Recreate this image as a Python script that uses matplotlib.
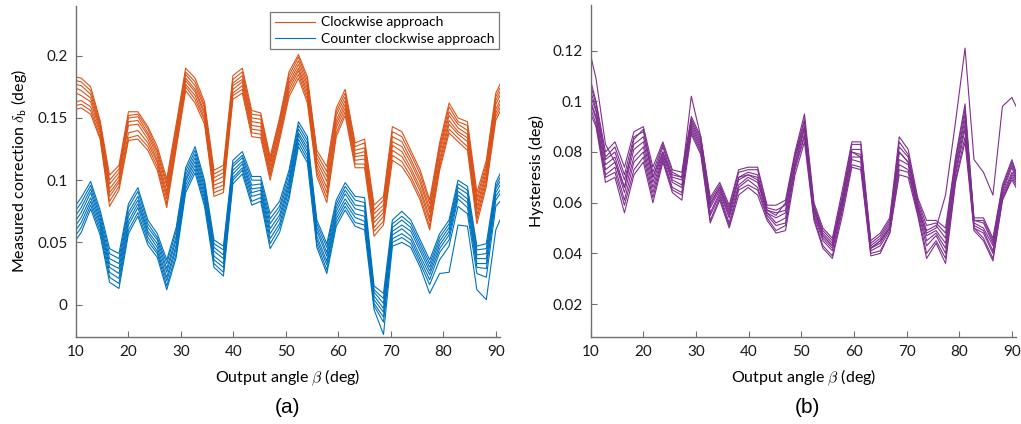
import matplotlib
matplotlib.use('Agg')
import matplotlib.pyplot as plt
from matplotlib.ticker import FuncFormatter

plt.rcParams['font.family'] = ['Lato', 'DejaVu Sans']
plt.rcParams['mathtext.fontset'] = 'cm'

# output angle samples (deg)
beta = [10.0, 11.0, 12.8, 14.6, 16.4, 18.2, 20.0, 21.8, 23.7, 25.5,
        27.3, 29.1, 30.9, 32.7, 34.5, 36.3, 38.1, 39.9, 41.7, 43.5,
        45.2, 47.0, 48.8, 50.6, 52.4, 54.1, 55.9, 57.8, 59.6, 61.3,
        63.2, 65.0, 66.8, 68.6, 70.3, 72.1, 73.8, 75.6, 77.4, 79.3,
        81.1, 82.8, 84.6, 86.4, 88.2, 90.0, 90.8]

# measured correction, clockwise approach (one row per run)
cw_runs = [
    [.183, .182, .175, .148, .104, .112, .155, .155, .143, .127, .101, .145, .190, .182, .163, .108, .112, .184, .190, .156, .154, .119, .150, .187, .201, .183, .124, .111, .158, .173, .130, .133, .080, .087, .143, .139, .124, .108, .084, .130, .162, .150, .147, .090, .116, .170, .177],
    [.180, .179, .172, .146, .100, .109, .152, .153, .141, .124, .098, .142, .187, .179, .160, .105, .109, .181, .187, .153, .152, .116, .148, .184, .199, .180, .121, .107, .155, .170, .127, .130, .076, .084, .139, .135, .121, .105, .081, .127, .159, .147, .144, .086, .113, .167, .174],
    [.177, .176, .169, .144, .097, .106, .150, .151, .138, .122, .095, .139, .185, .176, .158, .102, .106, .178, .184, .150, .149, .114, .145, .181, .196, .177, .118, .103, .152, .167, .124, .126, .073, .080, .135, .131, .117, .101, .077, .124, .155, .145, .140, .083, .110, .164, .171],
    [.174, .172, .166, .142, .093, .103, .147, .148, .136, .119, .091, .136, .182, .173, .155, .099, .103, .176, .181, .147, .146, .111, .143, .178, .193, .174, .115, .099, .148, .164, .121, .123, .069, .077, .131, .127, .114, .098, .074, .121, .152, .142, .137, .079, .107, .161, .168],
    [.170, .168, .163, .140, .090, .100, .144, .145, .133, .116, .088, .134, .180, .171, .153, .096, .099, .173, .179, .144, .143, .108, .140, .176, .190, .171, .112, .094, .145, .161, .119, .120, .066, .074, .128, .123, .110, .094, .070, .117, .148, .139, .134, .076, .104, .157, .164],
    [.163, .164, .159, .138, .087, .098, .138, .140, .130, .114, .085, .131, .177, .168, .150, .093, .096, .170, .176, .141, .140, .105, .137, .173, .188, .168, .109, .090, .142, .158, .116, .117, .062, .071, .124, .119, .107, .091, .067, .114, .145, .137, .131, .072, .101, .154, .161],
    [.160, .161, .156, .135, .083, .095, .134, .136, .127, .111, .081, .128, .175, .165, .148, .090, .093, .168, .173, .138, .137, .103, .135, .170, .185, .165, .106, .086, .138, .155, .113, .113, .059, .067, .120, .115, .103, .087, .063, .111, .141, .134, .127, .069, .098, .151, .158],
    [.157, .158, .153, .133, .079, .092, .132, .133, .124, .108, .078, .125, .172, .162, .145, .087, .090, .165, .170, .135, .134, .100, .132, .167, .182, .162, .103, .082, .135, .152, .110, .110, .055, .064, .116, .111, .100, .084, .060, .108, .138, .131, .124, .065, .095, .148, .155],
]

# measured correction, counter clockwise approach
ccw_runs = [
    [.080, .086, .099, .076, .045, .041, .081, .094, .068, .057, .036, .062, .110, .127, .100, .052, .047, .116, .123, .103, .103, .073, .083, .108, .147, .135, .068, .049, .084, .098, .087, .086, .015, .009, .068, .075, .068, .052, .036, .057, .068, .100, .095, .047, .049, .098, .105],
    [.076, .082, .096, .073, .041, .037, .078, .091, .065, .054, .033, .059, .107, .124, .097, .049, .044, .113, .120, .100, .100, .069, .079, .105, .144, .132, .065, .046, .081, .095, .084, .082, .012, .005, .065, .071, .065, .049, .033, .054, .065, .097, .092, .044, .045, .095, .102],
    [.072, .078, .093, .070, .037, .033, .074, .087, .062, .052, .029, .055, .104, .121, .094, .046, .040, .111, .118, .096, .097, .065, .076, .101, .141, .129, .062, .042, .078, .092, .080, .079, .010, .001, .062, .068, .062, .046, .030, .051, .062, .094, .089, .040, .041, .093, .099],
    [.068, .074, .090, .067, .033, .029, .071, .084, .059, .049, .026, .052, .101, .118, .091, .043, .037, .108, .115, .093, .094, .061, .072, .098, .138, .126, .059, .039, .075, .089, .077, .075, .007, -.003, .059, .064, .059, .043, .027, .048, .059, .091, .085, .037, .037, .090, .096],
    [.064, .070, .086, .065, .030, .025, .067, .081, .057, .046, .022, .048, .099, .115, .088, .039, .033, .105, .113, .090, .092, .057, .069, .095, .136, .123, .055, .035, .072, .085, .073, .071, .004, -.006, .056, .061, .055, .039, .024, .045, .056, .088, .082, .033, .033, .087, .092],
    [.060, .066, .083, .062, .026, .021, .064, .078, .054, .043, .019, .045, .096, .112, .085, .036, .030, .102, .110, .087, .089, .053, .065, .092, .133, .120, .052, .032, .069, .082, .070, .067, .001, -.010, .053, .057, .052, .036, .020, .042, .052, .085, .078, .030, .029, .084, .089],
    [.056, .062, .080, .059, .022, .017, .060, .074, .051, .041, .015, .041, .093, .109, .082, .033, .026, .100, .108, .083, .086, .049, .062, .088, .130, .117, .049, .028, .066, .079, .066, .064, -.001, -.014, .050, .054, .049, .033, .016, .036, .047, .079, .073, .025, .022, .079, .083],
    [.052, .058, .077, .056, .018, .013, .057, .071, .048, .038, .012, .038, .090, .106, .079, .030, .023, .097, .105, .080, .083, .045, .058, .085, .127, .114, .046, .025, .063, .076, .063, .060, -.004, -.024, .047, .050, .046, .030, .009, .025, .026, .064, .063, .012, .004, .060, .068],
]

# hysteresis per run
hyst_runs = [
    [.108, .100, .080, .084, .074, .088, .090, .074, .084, .073, .072, .094, .086, .062, .068, .059, .073, .074, .074, .059, .059, .061, .080, .095, .060, .050, .046, .065, .084, .084, .045, .048, .054, .086, .081, .062, .053, .053, .050, .078, .099, .054, .054, .046, .067, .077, .072],
    [.106, .099, .078, .082, .071, .086, .088, .072, .083, .072, .070, .093, .085, .061, .067, .058, .072, .073, .073, .058, .057, .059, .079, .093, .059, .049, .045, .063, .083, .083, .044, .047, .053, .084, .079, .061, .051, .052, .048, .077, .097, .053, .053, .045, .066, .076, .071],
    [.104, .097, .077, .080, .069, .083, .086, .070, .082, .070, .069, .092, .084, .059, .066, .056, .070, .072, .071, .057, .056, .057, .078, .092, .058, .048, .044, .062, .081, .081, .043, .046, .052, .082, .078, .060, .049, .051, .046, .075, .095, .053, .052, .044, .065, .075, .070],
    [.102, .096, .075, .078, .066, .081, .084, .068, .080, .069, .067, .091, .083, .058, .065, .055, .069, .071, .069, .056, .054, .056, .076, .090, .057, .047, .043, .061, .080, .079, .042, .045, .051, .080, .076, .059, .047, .049, .044, .074, .093, .052, .050, .043, .064, .074, .069],
    [.100, .094, .073, .076, .064, .078, .082, .066, .079, .068, .066, .090, .082, .056, .064, .054, .067, .070, .068, .056, .052, .054, .075, .089, .056, .046, .042, .059, .078, .078, .042, .044, .050, .077, .075, .058, .045, .048, .042, .072, .091, .051, .049, .041, .063, .072, .069],
    [.099, .093, .071, .074, .061, .076, .080, .064, .078, .066, .064, .089, .081, .055, .063, .052, .066, .069, .066, .055, .051, .052, .074, .087, .055, .045, .041, .058, .077, .076, .041, .043, .049, .075, .073, .057, .043, .047, .040, .071, .089, .050, .048, .040, .062, .071, .068],
    [.097, .091, .070, .072, .059, .073, .078, .062, .077, .065, .063, .088, .080, .053, .062, .051, .065, .067, .065, .054, .049, .051, .073, .086, .054, .043, .039, .057, .075, .074, .040, .041, .048, .073, .072, .056, .040, .045, .038, .069, .086, .050, .046, .038, .061, .070, .067],
    [.095, .090, .068, .070, .056, .071, .076, .060, .076, .064, .061, .087, .079, .052, .061, .050, .063, .066, .063, .053, .048, .049, .071, .084, .053, .042, .038, .055, .074, .073, .039, .040, .048, .071, .070, .055, .038, .044, .036, .068, .084, .049, .045, .037, .061, .069, .066],
    [.118, .109, .083, .076, .066, .085, .089, .070, .080, .071, .070, .102, .086, .060, .066, .057, .070, .071, .070, .057, .055, .060, .078, .090, .058, .047, .043, .060, .080, .078, .042, .045, .050, .080, .076, .058, .048, .050, .063, .092, .121, .077, .072, .063, .098, .1015, .098],
]

orange = '#D95319'
blue = '#0072BD'
purple = '#7E2F8E'
axis_grey = '#707070'


def style_axes(ax):
    for side in ('top', 'right'):
        ax.spines[side].set_visible(False)
    for side in ('left', 'bottom'):
        ax.spines[side].set_color(axis_grey)
        ax.spines[side].set_linewidth(1.0)
    ax.tick_params(direction='in', length=4, width=0.8, color=axis_grey,
                   labelsize=11, labelcolor='#1a1a1a', pad=6)
    ax.xaxis.set_major_formatter(FuncFormatter(lambda v, p: '%g' % v))
    ax.yaxis.set_major_formatter(FuncFormatter(lambda v, p: '%g' % v))
    ax.set_xlim(10, 90.8)
    ax.set_xticks(range(10, 91, 10))
    ax.set_xlabel(r'Output angle $\beta$ (deg)', fontsize=11.5, labelpad=6)


fig = plt.figure(figsize=(10.21, 4.24), dpi=100)

ax1 = fig.add_axes([0.0744, 0.2052, 0.4153, 0.7807])
for i, run in enumerate(cw_runs):
    ax1.plot(beta, run, color=orange, lw=0.8,
             label='Clockwise approach' if i == 0 else None)
for i, run in enumerate(ccw_runs):
    ax1.plot(beta, run, color=blue, lw=0.8,
             label='Counter clockwise approach' if i == 0 else None)
style_axes(ax1)
ax1.set_ylim(-0.026, 0.24)
ax1.set_yticks([0, 0.05, 0.1, 0.15, 0.2])
ax1.set_ylabel(r'Measured correction $\delta_\mathsf{b}$ (deg)', fontsize=11.5, labelpad=6)
leg = ax1.legend(loc='upper right', bbox_to_anchor=(0.998, 0.983), borderaxespad=0,
                 fontsize=10, frameon=True, fancybox=False, handlelength=2.9,
                 handletextpad=0.4, borderpad=0.35, labelspacing=0.3)
leg.get_frame().set_edgecolor('#555555')
leg.get_frame().set_linewidth(0.9)

ax2 = fig.add_axes([0.5786, 0.2052, 0.4166, 0.783])
for run in hyst_runs:
    ax2.plot(beta, run, color=purple, lw=0.8)
style_axes(ax2)
ax2.set_ylim(0.007, 0.138)
ax2.set_yticks([0.02, 0.04, 0.06, 0.08, 0.1, 0.12])
ax2.set_ylabel('Hysteresis (deg)', fontsize=11.5, labelpad=6)

fig.text(0.282, 0.04, '(a)', ha='center', va='center', fontsize=15,
         family=['Liberation Sans', 'DejaVu Sans'])
fig.text(0.791, 0.04, '(b)', ha='center', va='center', fontsize=15,
         family=['Liberation Sans', 'DejaVu Sans'])

fig.savefig('out.png', dpi=100)
